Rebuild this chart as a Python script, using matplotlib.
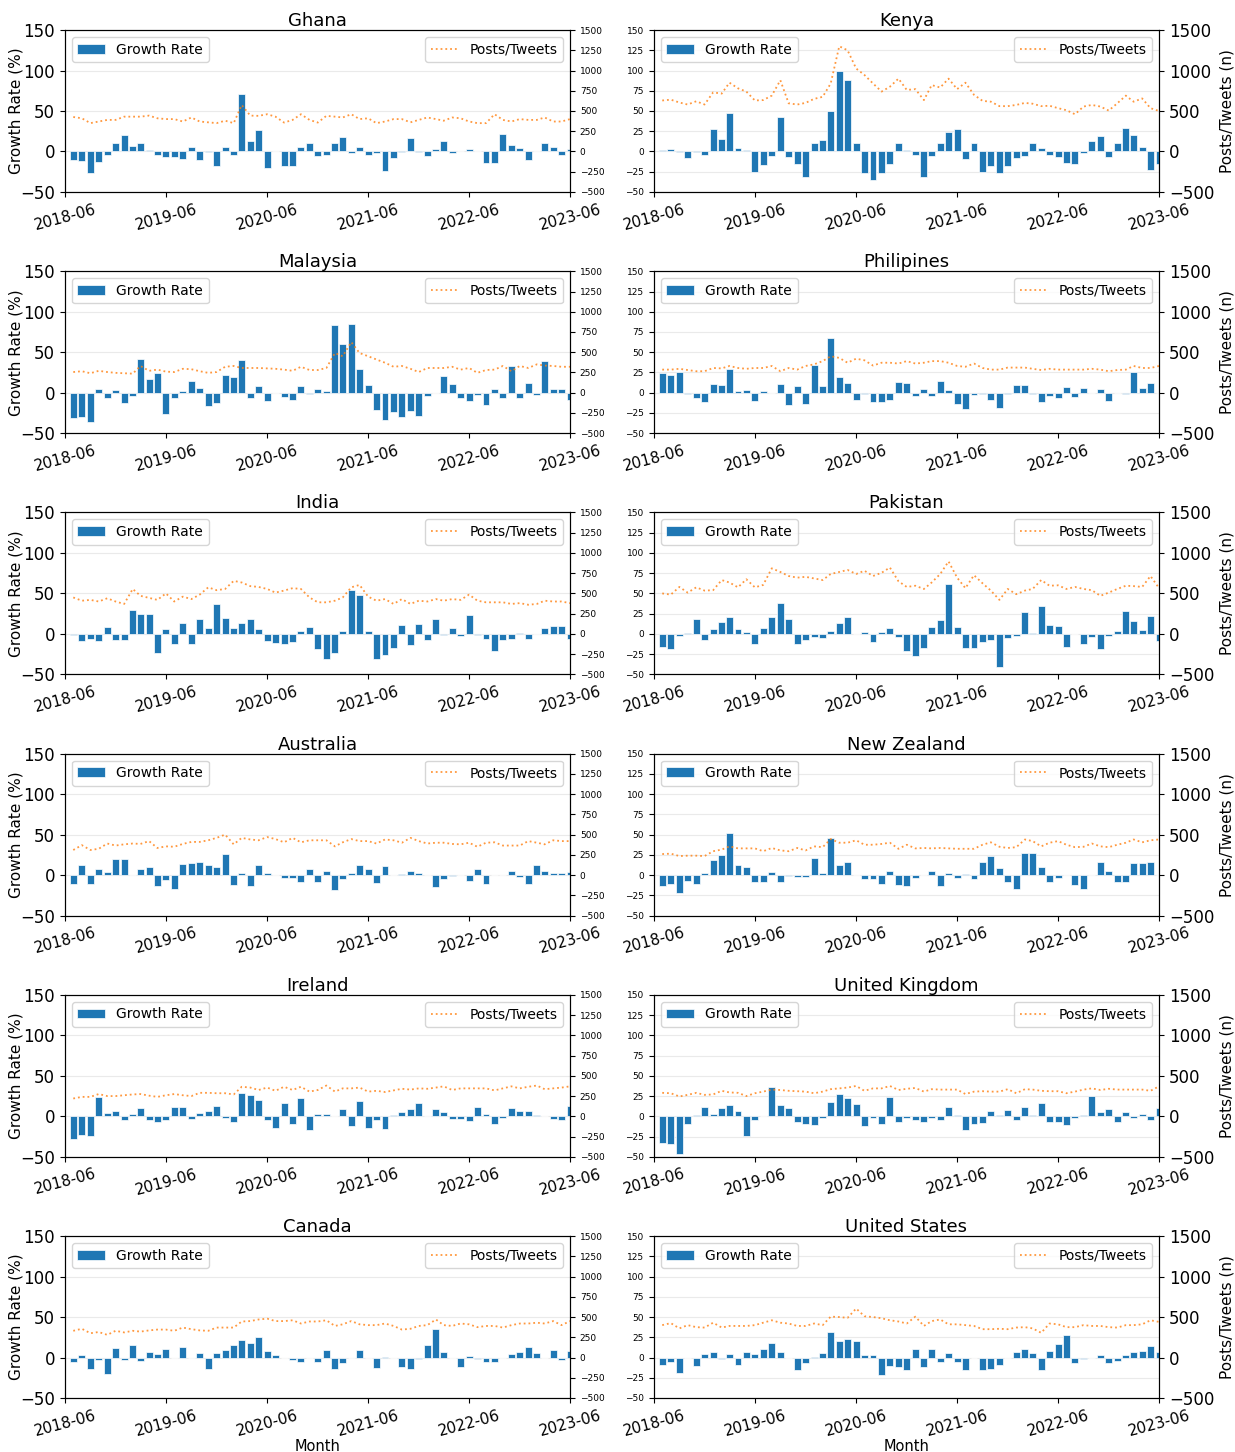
import matplotlib
matplotlib.use("Agg")
import matplotlib.pyplot as plt
import matplotlib.dates as mdates
import pandas as pd

# monthly points, 2018-07 .. 2023-06
months = pd.date_range("2018-07-01", "2023-06-01", freq="MS")

countries = ["Ghana", "Kenya", "Malaysia", "Philipines", "India", "Pakistan",
             "Australia", "New Zealand", "Ireland", "United Kingdom", "Canada", "United States"]

# growth rate (%) per month
ghana_growth = [-11, -12, -26, -13, -4, 11, 20, 7, 11, 2, -4, -7, -7, -9, 5, -11, -1, -18, 5, -4,
                71, 13, 26, -21, 0, -18, -18, 5, 11, -6, -4, 11, 18, -2, 5, -4, -2, -24, -8, -1,
                17, -1, -6, 3, 13, -2, 0, 3, 0, -14, -14, 22, 8, 4, -11, 0, 10, 5, -4, 3]
kenya_growth = [2, 3, -1, -8, -1, -4, 28, 15, 48, 4, 2, -25, -17, -5, 42, -7, -15, -32, 11, 14,
                50, 100, 88, 11, -27, -35, -26, -15, 11, 2, -4, -31, -5, 10, 24, 28, -9, 11, -25, -18,
                -27, -18, -8, -6, 10, 4, -4, -7, -14, -16, -2, 13, 19, -7, 10, 29, 20, 6, -23, -15]
malaysia_growth = [-31, -30, -36, 5, -6, 3, -13, -4, 41, 17, 24, -26, -6, 2, 15, 6, -16, -13, 22, 19,
                   40, -7, 8, -10, 0, -5, -9, 8, -2, 4, 2, 83, 60, 85, 29, 10, -21, -34, -24, -30,
                   -23, -29, -4, 0, 21, 11, -6, -10, -3, -15, 4, -7, 33, -6, 12, -3, 39, 4, 5, -9]
philipines_growth = [24, 22, 25, -2, -7, -12, 11, 10, 29, 2, 3, -10, 2, 0, 11, -15, 8, -14, 34, 8,
                     67, 19, 12, -9, -2, -12, -11, -9, 13, 12, -4, 4, -4, 15, 3, -14, -20, -3, -2, -9,
                     -19, -2, 10, 10, -2, -11, -4, -6, 7, -5, 6, -1, 5, -10, 0, -2, 26, 6, 12, -1]
india_growth = [-1, -9, -6, -9, 8, -7, -7, 29, 25, 25, -24, 6, -13, 14, -13, 18, 7, 37, 20, 7,
                13, 18, 6, -9, -11, -13, -10, 3, 9, -19, -31, -23, 4, 54, 48, 3, -31, -26, -18, 11,
                -14, 12, -7, 18, -1, 7, -2, 23, -1, -6, -21, -7, -6, 1, -6, 0, 7, 10, 10, -6]
pakistan_growth = [-16, -19, -2, 1, 19, -7, 6, 15, 21, 6, 2, -12, 7, 21, 38, 19, -12, -7, -4, -5,
                   3, 13, 21, 0, 2, -10, 2, 7, -4, -21, -27, -18, 9, 17, 62, 8, -17, -17, -10, -7,
                   -41, -5, -3, 27, 1, 35, 11, 10, -16, 0, -12, -4, -19, -2, 3, 28, 16, 5, 22, -9]
australia_growth = [-11, 12, -11, 7, 4, 20, 20, 0, 7, 10, -14, -6, -17, 14, 15, 16, 13, 10, 26, -12,
                    2, -14, 12, 2, 0, -4, -3, -8, 7, -8, 5, -18, -5, 3, 13, 7, -10, 11, 0, 1,
                    5, 3, 0, -15, -5, -1, 0, -7, 7, -11, 0, 0, 5, -2, -11, 12, 5, 2, 2, 4]
new_zealand_growth = [-13, -11, -22, -7, -11, 2, 19, 25, 52, 12, 10, -8, -8, 4, -8, -1, -2, -2, 21, 2,
                      46, 13, 16, 0, -5, -5, -11, 5, -12, -14, -4, 0, 5, -14, 3, -4, 1, -5, 16, 23,
                      9, -9, -17, 27, 27, 10, -9, -3, 0, -12, -17, 0, 16, 5, -8, -9, 15, 15, 16, 0]
ireland_growth = [-28, -23, -24, 24, 4, 6, -5, 3, 10, -5, -7, -4, 12, 11, -3, 4, 7, 13, -2, -7,
                  29, 26, 20, -4, -14, 16, -10, 23, -17, 3, 3, 0, 9, -12, 19, -14, -5, -16, 2, 5,
                  9, 17, 0, 9, 5, -3, -3, -6, 11, 3, -9, -2, 10, 6, 7, 1, 0, -3, -5, 13]
uk_growth = [-33, -34, -47, -9, 2, 12, 3, 10, 14, 7, -24, -5, 0, 36, 14, 10, -7, -9, -11, -2,
             18, 27, 22, 15, -12, -2, -10, 24, -7, -2, -5, -7, -2, -5, 11, 1, -17, -9, -8, 7,
             1, 8, -5, 12, 1, 16, -7, -7, -11, -2, 2, 25, 5, 9, -7, 5, -2, 3, -5, 10]
canada_growth = [-5, 3, -14, -3, -20, 12, -3, 16, -4, 7, 4, 11, 0, 13, 0, 5, -14, 5, 9, 15,
                 22, 18, 25, 8, 3, 0, -3, -5, -1, -6, 9, -14, -7, 0, 9, 0, -13, 1, 0, -12,
                 -14, -2, 16, 35, 7, 0, -12, 2, -2, -5, -6, -1, 4, 7, 13, 5, 0, 9, -3, 8]
us_growth = [-9, -5, -19, 0, -10, 4, 7, -2, 4, -9, 7, 4, 11, 18, 7, -1, -16, -7, 1, 5,
             31, 21, 23, 21, 3, 3, -21, -11, -12, -15, 10, -12, 10, -5, 5, -5, -15, -1, -16, -14,
             -9, 0, 7, 10, 6, -15, 8, 17, 28, -7, -2, 0, 3, -7, -4, 3, 7, 8, 14, 7]

# posts/tweets (n) per month
ghana_posts = [426, 410, 350, 370, 390, 390, 430, 430, 430, 443, 410, 400, 400, 370, 420, 370, 360, 350, 380, 350,
               574, 443, 440, 460, 430, 357, 390, 460, 390, 357, 440, 430, 420, 460, 400, 410, 350, 370, 400, 400,
               360, 390, 420, 400, 380, 420, 410, 370, 350, 350, 460, 390, 370, 400, 390, 390, 420, 370, 370, 400]
kenya_posts = [630, 640, 605, 580, 620, 580, 730, 715, 850, 780, 740, 630, 635, 690, 880, 595, 580, 600, 650, 675,
               840, 1300, 1250, 1025, 945, 840, 740, 800, 900, 760, 770, 635, 820, 790, 900, 770, 850, 700, 625, 615,
               560, 560, 575, 600, 590, 560, 565, 535, 510, 460, 555, 575, 555, 505, 595, 690, 615, 655, 535, 500]
malaysia_posts = [255, 265, 240, 270, 255, 245, 240, 235, 330, 270, 285, 260, 255, 295, 290, 265, 245, 255, 320, 330,
                  305, 305, 305, 300, 295, 285, 270, 320, 280, 280, 305, 490, 450, 625, 490, 450, 410, 370, 320, 330,
                  295, 255, 305, 305, 305, 320, 285, 305, 245, 280, 285, 330, 265, 330, 305, 350, 335, 330, 320, 320]
philipines_posts = [285, 285, 295, 280, 265, 265, 305, 300, 330, 305, 295, 305, 305, 330, 265, 305, 285, 330, 350, 390,
                    450, 430, 370, 420, 400, 335, 370, 370, 360, 390, 360, 370, 390, 390, 370, 330, 320, 360, 305, 285,
                    285, 310, 310, 310, 295, 280, 295, 285, 285, 285, 285, 295, 285, 265, 280, 285, 330, 305, 305, 330]
india_posts = [450, 410, 420, 400, 440, 400, 370, 555, 470, 445, 420, 500, 400, 460, 430, 485, 575, 540, 555, 655,
               635, 590, 580, 555, 510, 535, 565, 555, 450, 390, 390, 410, 450, 575, 605, 460, 410, 430, 370, 430,
               370, 410, 400, 430, 410, 430, 420, 485, 410, 390, 390, 390, 370, 380, 360, 370, 410, 400, 400, 380]
pakistan_posts = [500, 485, 580, 510, 575, 535, 540, 665, 635, 575, 675, 575, 605, 810, 765, 715, 695, 705, 685, 665,
                  740, 765, 790, 740, 780, 715, 755, 820, 650, 580, 595, 555, 635, 740, 895, 695, 565, 725, 625, 535,
                  420, 555, 490, 535, 555, 665, 595, 600, 555, 580, 555, 540, 470, 510, 555, 595, 590, 580, 715, 565]
australia_posts = [310, 370, 310, 325, 390, 365, 380, 390, 385, 420, 335, 355, 350, 385, 410, 410, 430, 460, 500, 380,
                   460, 440, 430, 470, 445, 405, 460, 405, 430, 430, 430, 355, 405, 445, 420, 420, 390, 440, 430, 400,
                   460, 420, 390, 400, 400, 385, 380, 400, 350, 400, 405, 365, 365, 365, 420, 400, 380, 430, 420, 420]
new_zealand_posts = [260, 265, 235, 240, 240, 235, 295, 315, 355, 330, 330, 330, 295, 335, 305, 295, 335, 305, 355, 345,
                     445, 400, 400, 430, 375, 375, 385, 400, 325, 375, 330, 335, 330, 335, 330, 325, 325, 325, 375, 405,
                     350, 335, 345, 440, 420, 355, 400, 420, 375, 345, 350, 390, 355, 345, 375, 400, 440, 405, 430, 440]
ireland_posts = [220, 240, 240, 275, 250, 250, 260, 270, 275, 255, 240, 260, 275, 260, 250, 290, 290, 285, 285, 270,
                 365, 355, 325, 355, 315, 365, 325, 365, 305, 325, 380, 305, 345, 345, 355, 305, 315, 300, 320, 340,
                 330, 345, 340, 355, 370, 325, 345, 345, 345, 345, 320, 345, 370, 345, 365, 380, 335, 345, 355, 370]
uk_posts = [290, 285, 245, 265, 290, 265, 270, 315, 295, 290, 250, 285, 305, 330, 325, 315, 310, 305, 285, 305,
            335, 345, 355, 375, 315, 345, 345, 375, 325, 340, 350, 305, 335, 330, 330, 330, 275, 305, 310, 305,
            305, 335, 285, 335, 330, 315, 310, 310, 285, 305, 330, 345, 325, 340, 330, 330, 330, 330, 315, 370]
canada_posts = [330, 355, 300, 315, 280, 330, 310, 330, 320, 335, 345, 345, 330, 370, 350, 335, 330, 370, 370, 370,
                445, 450, 470, 480, 450, 450, 460, 420, 445, 445, 460, 390, 410, 450, 410, 400, 400, 420, 390, 345,
                355, 390, 400, 470, 400, 390, 420, 410, 375, 390, 390, 370, 400, 420, 420, 430, 420, 450, 400, 450]
us_posts = [400, 425, 360, 400, 375, 370, 430, 370, 390, 390, 390, 400, 430, 460, 430, 420, 390, 390, 420, 400,
            505, 500, 490, 605, 510, 500, 485, 460, 445, 420, 505, 390, 450, 470, 410, 410, 400, 390, 350, 350,
            355, 350, 370, 375, 360, 305, 420, 410, 375, 375, 400, 390, 390, 375, 370, 400, 400, 410, 460, 440]

growth = [ghana_growth, kenya_growth, malaysia_growth, philipines_growth, india_growth, pakistan_growth,
          australia_growth, new_zealand_growth, ireland_growth, uk_growth, canada_growth, us_growth]
posts = [ghana_posts, kenya_posts, malaysia_posts, philipines_posts, india_posts, pakistan_posts,
         australia_posts, new_zealand_posts, ireland_posts, uk_posts, canada_posts, us_posts]

fig, axes = plt.subplots(6, 2, figsize=(12.35, 14.52), dpi=100)
plt.subplots_adjust(left=0.0526, right=0.9385, top=0.9793, bottom=0.0372, wspace=0.166, hspace=0.49)

for k, name in enumerate(countries):
    ax = axes.flat[k]
    left_col = (k % 2 == 0)

    # bars on the main axis
    ax.bar(months, growth[k], width=25, color="tab:blue", edgecolor="white", linewidth=0.5, label="Growth Rate")
    ax.set_ylim(-50, 150)
    ax.grid(axis="y", color="#dddddd", alpha=0.6)
    ax.set_axisbelow(True)

    # posts on the twin axis
    ax2 = ax.twinx()
    ax2.plot(months, posts[k], linestyle=":", color="tab:orange", alpha=0.8, linewidth=1.3, label="Posts/Tweets")
    ax2.set_ylim(-500, 1500)

    ax.set_xlim(pd.Timestamp("2018-06-01"), pd.Timestamp("2023-06-01"))
    ax.xaxis.set_major_locator(mdates.MonthLocator(bymonth=6))
    ax.xaxis.set_major_formatter(mdates.DateFormatter("%Y-%m"))
    plt.setp(ax.get_xticklabels(), rotation=15, fontsize=11)

    if left_col:
        ax.set_yticks(range(-50, 151, 50))
        ax.tick_params(axis="y", labelsize=12)
        ax.set_ylabel("Growth Rate (%)", fontsize=11)
        ax.yaxis.set_label_coords(-0.082, 0.5)
        ax2.set_yticks(range(-500, 1501, 250))
        ax2.tick_params(axis="y", labelsize=6.5)
    else:
        ax.set_yticks(range(-50, 151, 25))
        ax.tick_params(axis="y", labelsize=6.5)
        ax2.set_yticks(range(-500, 1501, 500))
        ax2.tick_params(axis="y", labelsize=12)
        ax2.set_ylabel("Posts/Tweets (n)", fontsize=11)

    ax.legend(loc="upper left", fontsize=10)
    ax2.legend(loc="upper right", fontsize=10)
    ax.set_title(name, fontsize=13, pad=3)
    if k >= 10:
        ax.set_xlabel("Month", fontsize=10.5, labelpad=0)

plt.savefig("out.png", dpi=100)
